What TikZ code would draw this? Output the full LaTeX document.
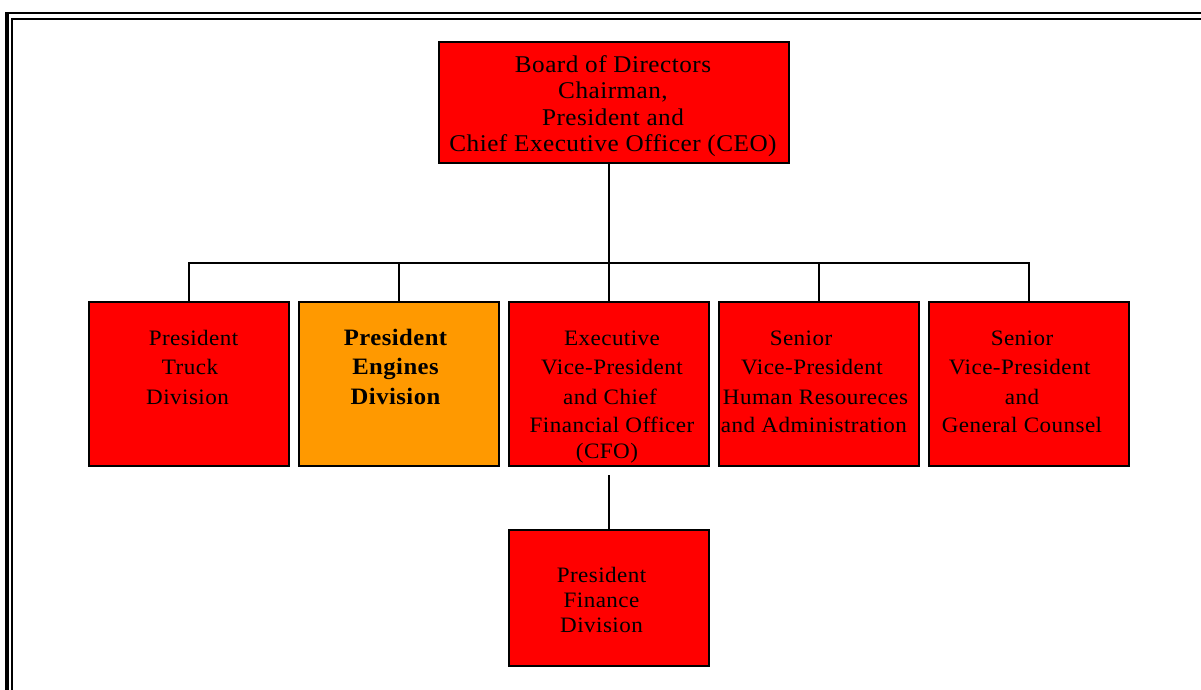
\documentclass[tikz,border=0pt]{standalone}
\usepackage{fontspec}
\setmainfont[LetterSpace=2,FakeStretch=1.05]{Liberation Serif}
\definecolor{boxred}{HTML}{FF0000}
\definecolor{boxorange}{HTML}{FF9900}
% move one centred line sideways by #1
\newcommand\nudge[2]{\hspace*{#1}#2\hspace*{-#1}}
\begin{document}
\begin{tikzpicture}[x=1pt,y=-1pt,
  orgbox/.style={draw=black,line width=1.6pt,fill=boxred,rectangle,
    inner sep=0pt,outer sep=0pt,minimum width=200pt,minimum height=164pt},
  label/.style={align=center,inner sep=0pt,anchor=base,
    font=\fontsize{22}{29.5}\selectfont},
  link/.style={draw=black,line width=1.4pt}]
\useasboundingbox (0,0) rectangle (1201,690);
% double page frame
\draw[line width=4pt] (7,700) -- (7,13.5);
\draw[line width=2pt] (5,13.5) -- (1210,13.5);
\draw[line width=1.6pt] (12,700) -- (12,19) -- (1210,19);

% boxes
\node[orgbox,minimum width=350pt,minimum height=121pt] (ceo) at (614,102.5) {};
\node[orgbox] (truck) at (189,384) {};
\node[orgbox,fill=boxorange] (engines) at (399,384) {};
\node[orgbox] (cfo) at (609,384) {};
\node[orgbox] (hr) at (819,384) {};
\node[orgbox] (gc) at (1029,384) {};
\node[orgbox,minimum height=136pt] (fin) at (609,598) {};

% texts (each placed by the baseline of its last line)
\node[label,font=\fontsize{24}{26.4}\selectfont] (ceotext) at (613,151.7)
  {Board of Directors\\Chairman,\\President and\\Chief Executive Officer (CEO)};
\node[label] (trucktext) at (190,404)
  {\nudge{3.5pt}{President}\\Truck\\\nudge{-2.5pt}{Division}};
\node[label,font=\bfseries\fontsize{23.5}{29.5}\selectfont] (enginestext) at (395.5,404)
  {President\\Engines\\Division};
\node[label] (cfotext) at (612,458)
  {Executive\\Vice-President\\\nudge{-4pt}{and Chief}\\[-1.5pt]Financial Officer\\[-3.5pt]\nudge{-5pt}{(CFO)}};
\node[label] (hrtext) at (814,432)
  {\nudge{-13pt}{Senior}\\\nudge{-4pt}{Vice-President}\\\nudge{3pt}{Human Resoureces}\\[-1.5pt]and Administration};
\node[label] (gctext) at (1022,432)
  {Senior\\\nudge{-4.5pt}{Vice-President}\\and\\[-1.5pt]General Counsel};
\node[label,font=\fontsize{22}{24.7}\selectfont] (fintext) at (601.5,632)
  {President\\Finance\\Division};

% connectors
\coordinate (bus) at (609,263);
\path[link] (ceo.south -| bus) -- (bus);
\path[link] (truck.north) -- (truck.north |- bus) -- (gc.north |- bus) -- (gc.north);
\path[link] (engines.north) -- (engines.north |- bus);
\path[link] (cfo.north) -- (bus);
\path[link] (hr.north) -- (hr.north |- bus);
\path[link] ([yshift=-9pt]cfo.south) -- (fin.north);
\end{tikzpicture}
\end{document}
